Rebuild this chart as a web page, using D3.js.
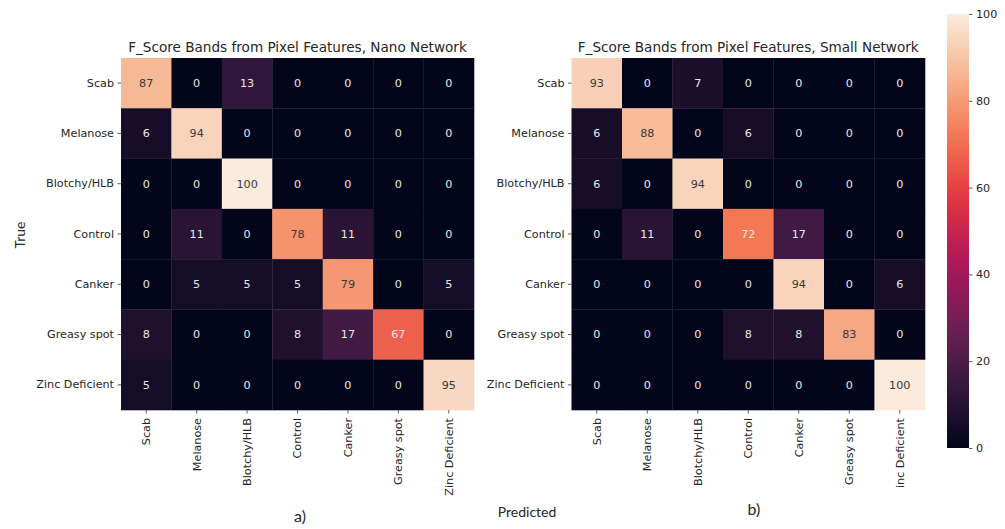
<!DOCTYPE html>
<html><head><meta charset="utf-8">
<script src="https://cdn.jsdelivr.net/npm/d3@7"></script>
<style>body{margin:0;background:#fff}svg{display:block}</style>
</head><body>
<svg id="c" width="1005" height="529"></svg>
<script>
const classes = ["Scab","Melanose","Blotchy/HLB","Control","Canker","Greasy spot","Zinc Deficient"];
const xLabelsB = ["Scab","Melanose","Blotchy/HLB","Control","Canker","Greasy spot","inc Deficient"];
const nanoValues = [
 [87,0,13,0,0,0,0],
 [6,94,0,0,0,0,0],
 [0,0,100,0,0,0,0],
 [0,11,0,78,11,0,0],
 [0,5,5,5,79,0,5],
 [8,0,0,8,17,67,0],
 [5,0,0,0,0,0,95]];
const smallValues = [
 [93,0,7,0,0,0,0],
 [6,88,0,6,0,0,0],
 [6,0,94,0,0,0,0],
 [0,11,0,72,17,0,0],
 [0,0,0,0,94,0,6],
 [0,0,0,8,8,83,0],
 [0,0,0,0,0,0,100]];
const titles = ["F_Score Bands from Pixel Features, Nano Network","F_Score Bands from Pixel Features, Small Network"];
const colorTicks = [0,20,40,60,80,100];

const rocketStops = ["#03051a","#35193e","#701f57","#ad1759","#e13342","#f37651","#f6b48f","#faebdd"];
const rocket = d3.scaleLinear().domain(d3.range(8).map(i=>i/7)).range(rocketStops).interpolate(d3.interpolateRgb);
const color = v => rocket(v/100);

function lum(c){
  const r = d3.rgb(c);
  const f = x => { x/=255; return x<=0.03928 ? x/12.92 : Math.pow((x+0.055)/1.055,2.4); };
  return 0.2126*f(r.r)+0.7152*f(r.g)+0.0722*f(r.b);
}

const svg = d3.select("#c");
const FONT = "DejaVu Sans, sans-serif";
const FS = "11.2px";

function heat(x0, x1, y0, y1, data, title, xlabels){
  const g = svg.append("g");
  const x = d3.scaleBand().domain(d3.range(7)).range([x0,x1]);
  const y = d3.scaleBand().domain(d3.range(7)).range([y0,y1]);
  data.forEach((row,i)=>row.forEach((v,j)=>{
    g.append("rect").attr("x",x(j)).attr("y",y(i)).attr("width",x.bandwidth()+0.3).attr("height",y.bandwidth()+0.3).attr("fill",color(v));
    g.append("text").attr("x",x(j)+x.bandwidth()/2).attr("y",y(i)+y.bandwidth()/2).attr("dy","0.35em")
      .attr("text-anchor","middle").attr("font-family",FONT).attr("font-size",FS)
      .attr("fill", lum(color(v))>0.408 ? "#3a3a3a" : "#e8e8e8").text(v);
  }));
  const ya = d3.axisLeft(d3.scaleBand().domain(classes).range([y0,y1])).tickSize(3.5).tickPadding(3.5);
  const ga = g.append("g").attr("transform",`translate(${x0},0)`).call(ya);
  ga.select(".domain").remove();
  ga.selectAll("text").attr("font-family",FONT).attr("font-size",FS).attr("fill","#262626");
  ga.selectAll("line").attr("stroke","#333").attr("stroke-width",0.8);
  const xa = d3.axisBottom(d3.scaleBand().domain(d3.range(7)).range([x0,x1])).tickFormat(i=>xlabels[i]).tickSize(3.5).tickPadding(3);
  const gx = g.append("g").attr("transform",`translate(0,${y1})`).call(xa);
  gx.select(".domain").remove();
  gx.selectAll("line").attr("stroke","#333").attr("stroke-width",0.8);
  gx.selectAll("text").attr("font-family",FONT).attr("font-size",FS).attr("fill","#262626")
    .attr("transform","rotate(-90)").attr("text-anchor","end").attr("dy","0.35em").attr("x",-8).attr("y",0);
  g.append("text").attr("x",(x0+x1)/2).attr("y",y0-6).attr("text-anchor","middle")
    .attr("font-family",FONT).attr("font-size","13.6px").attr("fill","#262626").text(title);
}

heat(121, 474, 58, 410, nanoValues, titles[0], classes);
heat(571.5, 925, 58, 410, smallValues, titles[1], xLabelsB);

// colorbar
const cb = {x:947, w:22, y0:14, y1:448};
const defs = svg.append("defs");
const grad = defs.append("linearGradient").attr("id","cbg").attr("x1",0).attr("x2",0).attr("y1",1).attr("y2",0);
d3.range(0,101,5).forEach(v=>grad.append("stop").attr("offset",v/100).attr("stop-color",color(v)));
svg.append("rect").attr("x",cb.x).attr("y",cb.y0).attr("width",cb.w).attr("height",cb.y1-cb.y0).attr("fill","url(#cbg)");
const cs = d3.scaleLinear().domain([0,100]).range([cb.y1,cb.y0]);
const ca = svg.append("g").attr("transform",`translate(${cb.x+cb.w},0)`).call(d3.axisRight(cs).tickValues(colorTicks).tickSize(3.5).tickPadding(3.5));
ca.select(".domain").remove();
ca.selectAll("line").attr("stroke","#333").attr("stroke-width",0.8);
ca.selectAll("text").attr("font-family",FONT).attr("font-size",FS).attr("fill","#262626");

// labels
const LF = "Lato, 'Open Sans', sans-serif";
svg.append("text").attr("transform","translate(25,235) rotate(-90)").attr("text-anchor","middle")
  .attr("font-family",LF).attr("font-size","14px").attr("fill","#262626").text("True");
svg.append("text").attr("x",527).attr("y",517).attr("text-anchor","middle")
  .attr("font-family",LF).attr("font-size","14px").attr("fill","#262626").text("Predicted");
svg.append("text").attr("x",300).attr("y",522).attr("text-anchor","middle")
  .attr("font-family",LF).attr("font-size","16px").attr("fill","#262626").text("a)");
svg.append("text").attr("x",754).attr("y",515).attr("text-anchor","middle")
  .attr("font-family",LF).attr("font-size","16px").attr("fill","#262626").text("b)");
</script>
</body></html>
